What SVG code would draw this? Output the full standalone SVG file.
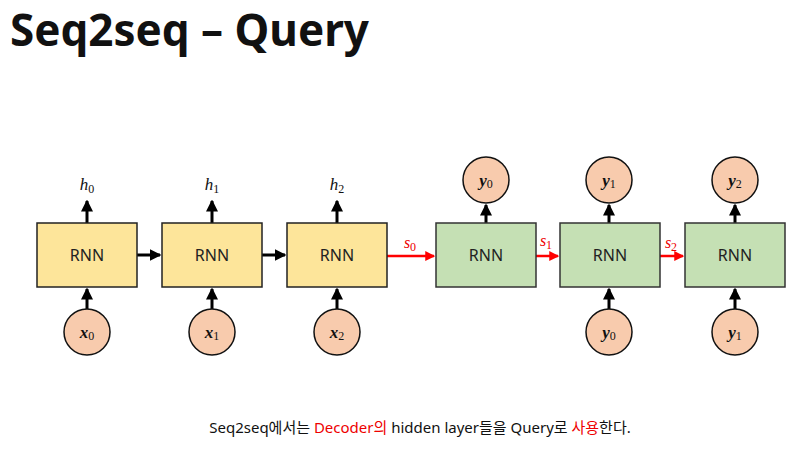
<svg xmlns="http://www.w3.org/2000/svg" width="800" height="456" viewBox="0 0 800 456">
<defs>
<marker id="ab" markerWidth="4" markerHeight="4" refX="3.5" refY="2" orient="auto" markerUnits="strokeWidth"><path d="M0,0 L4,2 L0,4 z" fill="#000"/></marker>
<marker id="ar" markerWidth="4" markerHeight="4" refX="3.5" refY="2" orient="auto" markerUnits="strokeWidth"><path d="M0,0 L4,2 L0,4 z" fill="#f00"/></marker>
</defs>
<style>
.enc{fill:#fde59a;stroke:#222;stroke-width:1.5}
.dec{fill:#c5e0b4;stroke:#333;stroke-width:1.5}
.c{fill:#f8cbad;stroke:#111;stroke-width:1.5}
.t{font-family:"Noto Sans","Liberation Sans",sans-serif;font-size:16px;fill:#222;text-anchor:middle}
.m{font-family:"Liberation Serif",serif;font-style:italic;font-size:17px;text-anchor:middle;fill:#111}
.mb{font-family:"Liberation Serif",serif;font-style:italic;font-weight:bold;font-size:17px;text-anchor:middle;fill:#111}
.sub{font-style:normal;font-weight:normal;font-size:12px}
.bl{stroke:#000;stroke-width:3;marker-end:url(#ab)}
.rd{stroke:#f00;stroke-width:2.5;marker-end:url(#ar)}
.rl{font-family:"Liberation Serif",serif;font-style:italic;font-size:16px;fill:#e00;text-anchor:middle}
</style>
<text x="10" y="46" font-family="'Noto Sans','Open Sans',sans-serif" font-weight="bold" font-size="44" fill="#111">Seq2seq – Query</text>
<g id="connectors">
<line class="bl" x1="87" y1="223" x2="87" y2="201"/>
<line class="bl" x1="212" y1="223" x2="212" y2="201"/>
<line class="bl" x1="337" y1="223" x2="337" y2="201"/>
<line class="bl" x1="87" y1="309" x2="87" y2="289"/>
<line class="bl" x1="212" y1="309" x2="212" y2="289"/>
<line class="bl" x1="337" y1="309" x2="337" y2="289"/>
<line class="bl" x1="137" y1="255" x2="160" y2="255"/>
<line class="bl" x1="262" y1="255" x2="285" y2="255"/>
<line class="rd" x1="387" y1="256" x2="434" y2="256"/>
<line class="rd" x1="536" y1="256" x2="558" y2="256"/>
<line class="rd" x1="660" y1="256" x2="683" y2="256"/>
<line class="bl" x1="486" y1="223" x2="486" y2="205"/>
<line class="bl" x1="609" y1="223" x2="609" y2="205"/>
<line class="bl" x1="735" y1="223" x2="735" y2="205"/>
<line class="bl" x1="609" y1="309" x2="609" y2="289"/>
<line class="bl" x1="735" y1="309" x2="735" y2="289"/>
<text class="rl" x="410" y="248">s<tspan class="sub" dy="3">0</tspan></text>
<text class="rl" x="546" y="246">s<tspan class="sub" dy="3">1</tspan></text>
<text class="rl" x="671" y="248">s<tspan class="sub" dy="3">2</tspan></text>
</g>
<g id="h0"><text class="m" x="87" y="190">h<tspan class="sub" dy="3">0</tspan></text></g>
<g id="h1"><text class="m" x="212" y="190">h<tspan class="sub" dy="3">1</tspan></text></g>
<g id="h2"><text class="m" x="337" y="190">h<tspan class="sub" dy="3">2</tspan></text></g>
<g id="enc0"><rect class="enc" x="37" y="223" width="100" height="64"/><text class="t" x="87" y="261">RNN</text></g>
<g id="enc1"><rect class="enc" x="162" y="223" width="100" height="64"/><text class="t" x="212" y="261">RNN</text></g>
<g id="enc2"><rect class="enc" x="287" y="223" width="100" height="64"/><text class="t" x="337" y="261">RNN</text></g>
<g id="dec0"><rect class="dec" x="436" y="223" width="100" height="64"/><text class="t" x="486" y="261">RNN</text></g>
<g id="dec1"><rect class="dec" x="560" y="223" width="100" height="64"/><text class="t" x="610" y="261">RNN</text></g>
<g id="dec2"><rect class="dec" x="685" y="223" width="100" height="64"/><text class="t" x="735" y="261">RNN</text></g>
<g id="x0"><circle class="c" cx="87" cy="332" r="23"/><text class="mb" x="87" y="338">x<tspan class="sub" dy="2">0</tspan></text></g>
<g id="x1"><circle class="c" cx="212" cy="332" r="23"/><text class="mb" x="212" y="338">x<tspan class="sub" dy="2">1</tspan></text></g>
<g id="x2"><circle class="c" cx="337" cy="332" r="23"/><text class="mb" x="337" y="338">x<tspan class="sub" dy="2">2</tspan></text></g>
<g id="yt0"><circle class="c" cx="486" cy="180" r="23"/><text class="mb" x="486" y="186">y<tspan class="sub" dy="2">0</tspan></text></g>
<g id="yt1"><circle class="c" cx="609" cy="180" r="23"/><text class="mb" x="609" y="186">y<tspan class="sub" dy="2">1</tspan></text></g>
<g id="yt2"><circle class="c" cx="735" cy="180" r="23"/><text class="mb" x="735" y="186">y<tspan class="sub" dy="2">2</tspan></text></g>
<g id="yb0"><circle class="c" cx="609" cy="332" r="23"/><text class="mb" x="609" y="338">y<tspan class="sub" dy="2">0</tspan></text></g>
<g id="yb1"><circle class="c" cx="735" cy="332" r="23"/><text class="mb" x="735" y="338">y<tspan class="sub" dy="2">1</tspan></text></g>
<text x="420" y="433" font-family="'Noto Sans','Noto Sans CJK KR',sans-serif" font-size="15" fill="#111" text-anchor="middle">Seq2seq에서는 <tspan fill="#e00">Decoder의</tspan> hidden layer들을 Query로 <tspan fill="#e00">사용</tspan>한다.</text>
</svg>
